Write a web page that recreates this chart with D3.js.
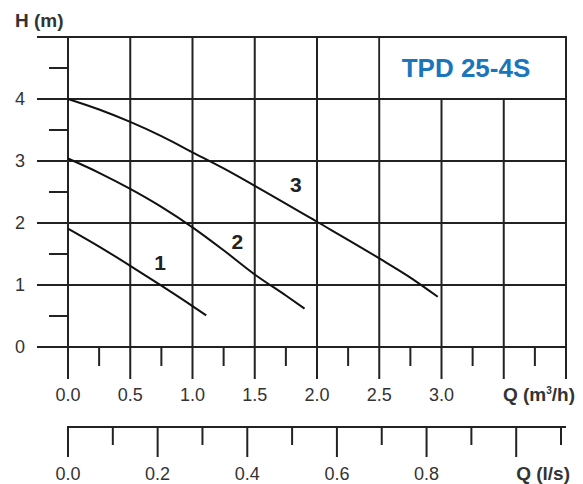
<!DOCTYPE html>
<html><head><meta charset="utf-8">
<script src="https://cdn.jsdelivr.net/npm/d3@7/dist/d3.min.js"></script>
<style>body{margin:0;background:#fff}svg{display:block}text{font-family:"Liberation Sans",Arial,sans-serif}</style>
</head><body><svg id="c" width="583" height="484"></svg>
<script>
// ---- data ----
const title = "TPD 25-4S";
const curve1Q = [0, 0.25, 0.5, 0.75, 1.0, 1.11];
const curve1H = [1.91, 1.62, 1.31, 0.99, 0.66, 0.51];
const curve2Q = [0, 0.25, 0.5, 0.75, 1.0, 1.25, 1.5, 1.75, 1.9];
const curve2H = [3.04, 2.81, 2.55, 2.26, 1.93, 1.56, 1.17, 0.83, 0.62];
const curve3Q = [0, 0.25, 0.5, 0.75, 1.0, 1.25, 1.5, 2.0, 2.5, 2.75, 2.97];
const curve3H = [4.0, 3.83, 3.63, 3.40, 3.14, 2.88, 2.60, 2.02, 1.43, 1.12, 0.81];
const curveNames = ["1", "2", "3"];
const labelQ = [0.74, 1.36, 1.83];
const labelH = [1.35, 1.69, 2.62];
const hTicks = [0, 1, 2, 3, 4];
const hMinor = [0.5, 1.5, 2.5, 3.5, 4.5];
const qTicks = [0, 0.5, 1.0, 1.5, 2.0, 2.5, 3.0, 3.5, 4.0];
const qLabels = ["0.0", "0.5", "1.0", "1.5", "2.0", "2.5", "3.0"];
const qMinor = [0.25, 0.75, 1.25, 1.75, 2.25, 2.75, 3.25, 3.75];
const lsMajor = [0, 0.2, 0.4, 0.6, 0.8, 1.0];
const lsLabels = ["0.0", "0.2", "0.4", "0.6", "0.8"];
const lsMinor = [0.1, 0.3, 0.5, 0.7, 0.9, 1.1];

const svg = d3.select("#c");
const ink = "#222";
const x = d3.scaleLinear().domain([0, 4]).range([68, 566]);
const y = d3.scaleLinear().domain([0, 5]).range([347, 37]);
const xl = d3.scaleLinear().domain([0, 4 / 3.6]).range([68, 566]);

const g = svg.append("g").attr("stroke", ink).attr("stroke-width", 2).attr("fill", "none");
[...hTicks, 5].forEach(h => g.append("line").attr("x1", 37).attr("x2", 567).attr("y1", y(h)).attr("y2", y(h)));
hMinor.forEach(h => g.append("line").attr("x1", 49).attr("x2", 68).attr("y1", y(h)).attr("y2", y(h)));
qTicks.forEach(q => g.append("line").attr("x1", x(q)).attr("x2", x(q)).attr("y1", y(5) - 1).attr("y2", 379));
qMinor.forEach(q => g.append("line").attr("x1", x(q)).attr("x2", x(q)).attr("y1", y(0)).attr("y2", 366));

// title box
svg.append("rect").attr("x", x(2.5) + 1).attr("y", y(5) + 1).attr("width", x(4) - x(2.5) - 2).attr("height", y(4) - y(5) - 2).attr("fill", "#fff");
svg.append("text").attr("x", 466).attr("y", 77).attr("text-anchor", "middle")
  .attr("font-size", 26).attr("font-weight", "bold").attr("fill", "#1b75bb").text(title);

// curves
const line = d3.line().x(d => x(d[0])).y(d => y(d[1])).curve(d3.curveMonotoneX);
const curves = [[curve1Q, curve1H], [curve2Q, curve2H], [curve3Q, curve3H]];
curves.forEach(([qs, hs]) => {
  svg.append("path").attr("d", line(qs.map((q, i) => [q, hs[i]])))
    .attr("fill", "none").attr("stroke", "#111").attr("stroke-width", 2);
});
curveNames.forEach((n, i) => svg.append("text").attr("x", x(labelQ[i])).attr("y", y(labelH[i]) + 7)
  .attr("text-anchor", "middle").attr("font-size", 21).attr("font-weight", "bold").attr("fill", "#222").text(n));

// axis labels
const tx = "#333";
hTicks.forEach(h => svg.append("text").attr("x", 20).attr("y", y(h) + 6).attr("text-anchor", "middle")
  .attr("font-size", 18).attr("fill", tx).text(String(h)));
svg.append("text").attr("x", 15).attr("y", 27).attr("font-size", 19).attr("font-weight", "bold").attr("fill", tx).text("H (m)");
qLabels.forEach((l, i) => svg.append("text").attr("x", x(qTicks[i])).attr("y", 401).attr("text-anchor", "middle")
  .attr("font-size", 18).attr("fill", tx).text(l));
const qm = svg.append("text").attr("x", 575).attr("y", 401).attr("text-anchor", "end")
  .attr("font-size", 19).attr("font-weight", "bold").attr("fill", tx);
qm.append("tspan").text("Q (m");
qm.append("tspan").attr("font-size", 10).attr("dy", -7).text("3");
qm.append("tspan").attr("dy", 7).text("/h)");

// second axis (l/s)
const g2 = svg.append("g").attr("stroke", ink).attr("stroke-width", 2);
g2.append("line").attr("x1", xl(0) - 1).attr("x2", 566).attr("y1", 427).attr("y2", 427);
lsMajor.forEach(v => g2.append("line").attr("x1", xl(v)).attr("x2", xl(v)).attr("y1", 427).attr("y2", 457));
lsMinor.forEach(v => g2.append("line").attr("x1", xl(v)).attr("x2", xl(v)).attr("y1", 427).attr("y2", 445));
lsLabels.forEach((l, i) => svg.append("text").attr("x", xl(lsMajor[i])).attr("y", 480).attr("text-anchor", "middle")
  .attr("font-size", 18).attr("fill", tx).text(l));
svg.append("text").attr("x", 570).attr("y", 480).attr("text-anchor", "end")
  .attr("font-size", 19).attr("font-weight", "bold").attr("fill", tx).text("Q (l/s)");
</script></body></html>
